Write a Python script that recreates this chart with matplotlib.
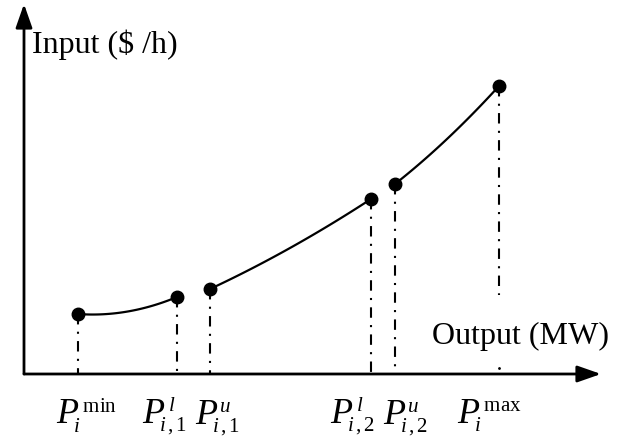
import numpy as np
import matplotlib
matplotlib.use("Agg")
import matplotlib.pyplot as plt
import matplotlib._mathtext as _mt

_mt.SHRINK_FACTOR = 0.58

plt.rcParams['font.family'] = ['Liberation Serif', 'DejaVu Serif']
plt.rcParams['mathtext.fontset'] = 'custom'
plt.rcParams['mathtext.rm'] = 'Liberation Serif'
plt.rcParams['mathtext.it'] = 'Liberation Serif:italic'
plt.rcParams['mathtext.bf'] = 'Liberation Serif:bold'

# ---- data (output vs input, arbitrary units) ----
point_labels = [r'$P_{\!\!i}^{\,\mathrm{min}}$', r'$P_{\!\!i\,,1}^{\,l}$', r'$P_{\!\!i\,,1}^{u}$',
                r'$P_{\!\!i\,,2}^{\,l}$', r'$P_{\!\!i\,,2}^{u}$', r'$P_{\!\!i}^{\,\mathrm{max}}$']
output_pts = [54, 153, 186, 347, 371, 475]
input_pts = [60, 77, 85, 175, 190, 288]
# mid points of each cost curve segment
seg_mid_out = [116, 266, 423]
seg_mid_in = [65, 126, 235]

x_label = 'Output (MW)'
y_label = 'Input ($ /h)'

# ---- layout ----
W, H = 626, 438
fig = plt.figure(figsize=(W / 100, H / 100), dpi=100)
ax = fig.add_axes([0, 0, 1, 1])
ax.set_xlim(-24, W - 24)
ax.set_ylim(-64, H - 64)
ax.axis('off')

arrow_style = '-|>,head_length=0.8,head_width=0.28'
# axes with arrows
ax.annotate('', xy=(577, 0), xytext=(0, 0),
            arrowprops=dict(arrowstyle=arrow_style, mutation_scale=18, lw=2,
                            color='black', shrinkA=0, shrinkB=0))
ax.annotate('', xy=(0, 370), xytext=(0, 0),
            arrowprops=dict(arrowstyle=arrow_style, mutation_scale=18, lw=2,
                            color='black', shrinkA=0, shrinkB=0))

# curve segments (quadratic through start, mid, end)
for k in range(3):
    xs = [output_pts[2 * k], seg_mid_out[k], output_pts[2 * k + 1]]
    ys = [input_pts[2 * k], seg_mid_in[k], input_pts[2 * k + 1]]
    c = np.polyfit(xs, ys, 2)
    xx = np.linspace(xs[0], xs[-1], 100)
    ax.plot(xx, np.polyval(c, xx), color='black', lw=1.6, solid_capstyle='round')

# drop lines
dash = (0, (5, 3.5, 1, 3.5))
for j, (x, y) in enumerate(zip(output_pts, input_pts)):
    if j == len(output_pts) - 1:
        ax.plot([x, x], [y, 79], color='black', lw=1.5, linestyle=dash)
        ax.plot([x], [6], marker='.', ms=2, color='black')
    else:
        ax.plot([x, x], [y, 0], color='black', lw=1.5, linestyle=dash)

ax.plot(output_pts, input_pts, 'o', color='black', ms=9, zorder=5)

# tick labels
label_dx = [-22, -35, -15, -41, -12, -42]
for x, lab, dx in zip(output_pts, point_labels, label_dx):
    ax.text(x + dx, -50, lab, fontsize=26, ha='left', va='baseline')

ax.text(8, 329, y_label, fontsize=23, ha='left', va='center')
ax.text(408, 38, x_label, fontsize=23, ha='left', va='center')

fig.savefig('out.png', dpi=100)
